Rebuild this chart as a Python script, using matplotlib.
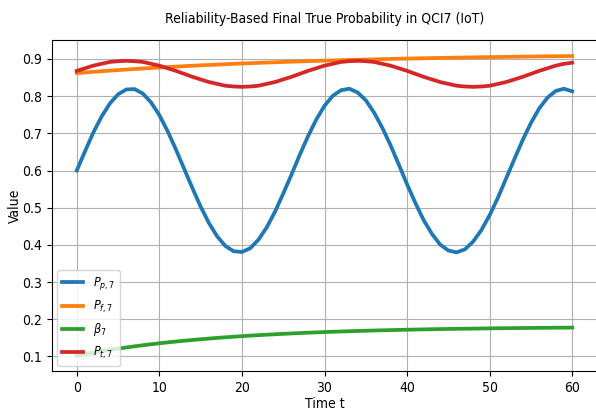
import matplotlib
matplotlib.use("Agg")
import matplotlib.pyplot as plt

plt.rcParams['font.family'] = ['DejaVu Sans']
plt.rcParams['font.stretch'] = 'condensed'

# time axis and the four series at each integer t
time_t = list(range(0, 61))

p_p7 = [0.600, 0.652, 0.702, 0.745, 0.780, 0.805, 0.818, 0.819, 0.807, 0.783,
        0.749, 0.706, 0.657, 0.605, 0.553, 0.503, 0.459, 0.423, 0.397, 0.383,
        0.381, 0.391, 0.414, 0.447, 0.489, 0.538, 0.589, 0.642, 0.692, 0.737,
        0.774, 0.801, 0.816, 0.820, 0.810, 0.789, 0.756, 0.715, 0.668, 0.616,
        0.563, 0.513, 0.467, 0.430, 0.401, 0.385, 0.380, 0.388, 0.409, 0.440,
        0.480, 0.527, 0.579, 0.631, 0.682, 0.728, 0.767, 0.796, 0.814, 0.820,
        0.813]

p_f7 = [0.8620, 0.8637, 0.8654, 0.8670, 0.8686, 0.8701, 0.8716, 0.8730, 0.8744, 0.8757,
        0.8770, 0.8783, 0.8795, 0.8806, 0.8818, 0.8829, 0.8839, 0.8849, 0.8859, 0.8869,
        0.8878, 0.8887, 0.8895, 0.8904, 0.8912, 0.8920, 0.8927, 0.8935, 0.8942, 0.8948,
        0.8955, 0.8961, 0.8968, 0.8974, 0.8979, 0.8985, 0.8990, 0.8996, 0.9001, 0.9006,
        0.9010, 0.9015, 0.9019, 0.9024, 0.9028, 0.9032, 0.9036, 0.9039, 0.9043, 0.9047,
        0.9050, 0.9053, 0.9056, 0.9059, 0.9062, 0.9065, 0.9068, 0.9071, 0.9073, 0.9076,
        0.9078]

beta_7 = [0.1020, 0.1062, 0.1103, 0.1141, 0.1177, 0.1210, 0.1243, 0.1273, 0.1302, 0.1329,
          0.1355, 0.1379, 0.1402, 0.1424, 0.1444, 0.1464, 0.1482, 0.1500, 0.1516, 0.1532,
          0.1547, 0.1561, 0.1574, 0.1586, 0.1598, 0.1609, 0.1620, 0.1630, 0.1639, 0.1648,
          0.1657, 0.1665, 0.1672, 0.1680, 0.1686, 0.1693, 0.1699, 0.1705, 0.1710, 0.1715,
          0.1720, 0.1725, 0.1729, 0.1733, 0.1737, 0.1741, 0.1744, 0.1747, 0.1750, 0.1753,
          0.1756, 0.1759, 0.1761, 0.1764, 0.1766, 0.1768, 0.1770, 0.1772, 0.1774, 0.1775,
          0.1777]

p_t7 = [0.868, 0.875, 0.882, 0.887, 0.892, 0.894, 0.895, 0.894, 0.892, 0.887,
        0.882, 0.875, 0.868, 0.860, 0.852, 0.845, 0.838, 0.833, 0.828, 0.826,
        0.825, 0.826, 0.828, 0.833, 0.838, 0.845, 0.852, 0.860, 0.868, 0.875,
        0.882, 0.887, 0.892, 0.894, 0.895, 0.894, 0.892, 0.887, 0.882, 0.875,
        0.868, 0.860, 0.852, 0.845, 0.838, 0.833, 0.828, 0.826, 0.825, 0.826,
        0.828, 0.833, 0.838, 0.845, 0.852, 0.860, 0.868, 0.875, 0.882, 0.887,
        0.890]

labels = [r'$P_{p,7}$', r'$P_{f,7}$', r'$\beta_7$', r'$P_{t,7}$']

fig = plt.figure(figsize=(5.96, 4.12), dpi=100)
# the right side of the frame is cut off in the reference
ax = fig.add_axes([52 / 596, 41 / 412, 545 / 596, 331 / 412])
ax.spines['right'].set_visible(False)

for ys, lab in zip([p_p7, p_f7, beta_7, p_t7], labels):
    ax.plot(time_t, ys, lw=2.7, label=lab, solid_joinstyle='round')

ax.set_xlim(-3, 63)
ax.set_ylim(0.061, 0.951)
ax.set_xticks([0, 10, 20, 30, 40, 50, 60])
ax.set_yticks([0.1, 0.2, 0.3, 0.4, 0.5, 0.6, 0.7, 0.8, 0.9])
ax.tick_params(labelsize=10)
ax.grid(True)
ax.set_xlabel('Time t', fontsize=10)
ax.set_ylabel('Value', fontsize=10)
ax.xaxis.set_label_coords(0.5, -0.08)
ax.yaxis.set_label_coords(-0.056, 0.5)
ax.legend(loc='lower left', fontsize=9, handlelength=1.7, borderaxespad=0.4)

ax.set_title('Reliability-Based Final True Probability in QCI7 (IoT)', fontsize=10, pad=12)

fig.savefig('out.png', dpi=100)
